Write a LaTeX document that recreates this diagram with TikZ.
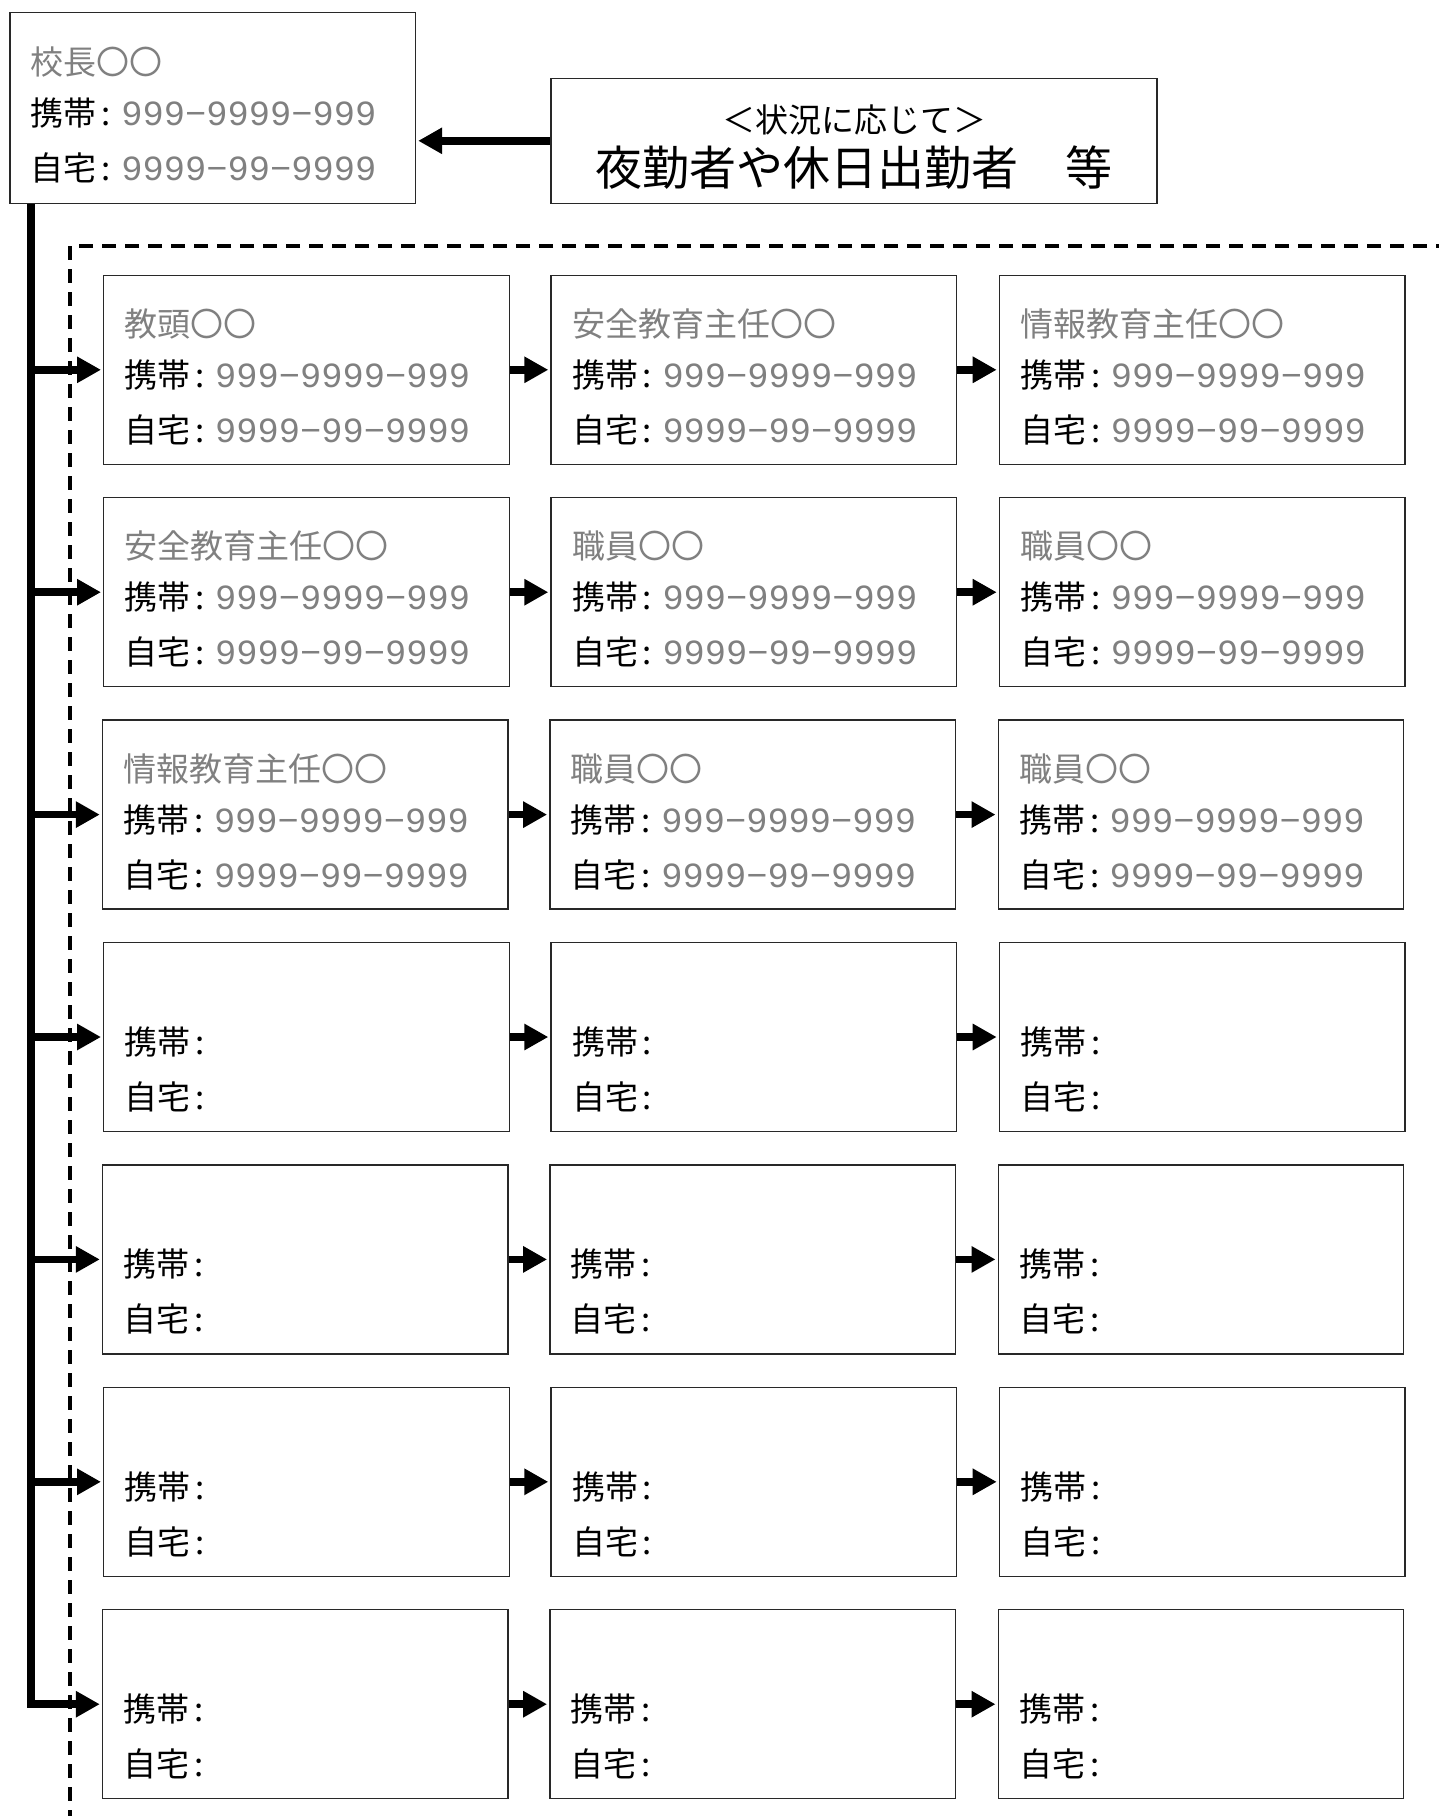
\documentclass[tikz,border=0pt]{standalone}
\usepackage{fontspec}
\setmainfont{Noto Sans CJK JP}
\newfontfamily\numfont{Liberation Mono}
\usepackage{xcolor}
\usetikzlibrary{
    arrows.meta
}
\definecolor{placeholder}{RGB}{128,128,128}
\definecolor{edge}{RGB}{40,40,40}

\newcommand{\tel}[1]{{\color{placeholder}\fontsize{17.7pt}{25.5pt}\numfont #1}}
\newcommand{\who}[1]{{\color{placeholder}#1}}
\newcommand{\keitai}{携帯\makebox[12.25pt][l]{\hspace{2.5pt}:}}
\newcommand{\jitaku}{自宅\makebox[12.25pt][l]{\hspace{2.5pt}:}}

\begin{document}
\begin{tikzpicture}[
    x=0.5pt, y=-0.5pt,
    box/.style={draw=edge, line width=0.7pt, anchor=north west, minimum width=202.75pt, minimum height=94.5pt,
        text width=181.75pt, inner xsep=10.5pt, inner ysep=0pt, text height=30.5pt, text depth=64pt,
        align=left, font=\fontsize{16.5pt}{25.5pt}\selectfont},
    link/.style={-{Triangle[length=12pt, width=12.5pt]}, line width=3.8pt, shorten >=1pt},
    frame/.style={dashed, line width=1.6pt, dash pattern=on 7pt off 4.5pt}
]
    \useasboundingbox (0,0) rectangle (1439,1816);

    % Principal
    \node[box, minimum height=95.6pt, text height=31pt, text depth=64.6pt] (kocho) at (9.3,11.6) {
        \who{校長〇〇}\\
        \keitai\tel{999−9999−999}\\[2pt]
        \jitaku\tel{9999−99−9999}
    };

    % Depending on the situation
    \node[draw=edge, line width=0.7pt, anchor=north west, minimum width=303pt, minimum height=62.5pt,
        text width=303pt, inner sep=0pt, text height=27pt, text depth=35.5pt, align=center,
        font=\fontsize{16.5pt}{26.4pt}\selectfont] (jokyo) at (550.3,77.6) {
        ＜状況に応じて＞\\
        {\fontsize{23.5pt}{26.4pt}\selectfont 夜勤者や休日出勤者　等}
    };
    \draw[link] (jokyo) -- (jokyo -| kocho.east);

    % Dashed frame
    \draw[frame] (1450,246) -| (70,1830);

    % Row 1
    \node[box] (r1a) at (103,274.6) {\who{教頭〇〇}\\ \keitai\tel{999−9999−999}\\[2pt] \jitaku\tel{9999−99−9999}};
    \node[box] (r1b) at (550.3,274.6) {\who{安全教育主任〇〇}\\ \keitai\tel{999−9999−999}\\[2pt] \jitaku\tel{9999−99−9999}};
    \node[box] (r1c) at (998.7,274.6) {\who{情報教育主任〇〇}\\ \keitai\tel{999−9999−999}\\[2pt] \jitaku\tel{9999−99−9999}};

    % Row 2
    \node[box] (r2a) at (103,497) {\who{安全教育主任〇〇}\\ \keitai\tel{999−9999−999}\\[2pt] \jitaku\tel{9999−99−9999}};
    \node[box] (r2b) at (550.3,497) {\who{職員〇〇}\\ \keitai\tel{999−9999−999}\\[2pt] \jitaku\tel{9999−99−9999}};
    \node[box] (r2c) at (998.7,497) {\who{職員〇〇}\\ \keitai\tel{999−9999−999}\\[2pt] \jitaku\tel{9999−99−9999}};

    % Row 3
    \node[box] (r3a) at (101.8,719.4) {\who{情報教育主任〇〇}\\ \keitai\tel{999−9999−999}\\[2pt] \jitaku\tel{9999−99−9999}};
    \node[box] (r3b) at (549.1,719.4) {\who{職員〇〇}\\ \keitai\tel{999−9999−999}\\[2pt] \jitaku\tel{9999−99−9999}};
    \node[box] (r3c) at (997.5,719.4) {\who{職員〇〇}\\ \keitai\tel{999−9999−999}\\[2pt] \jitaku\tel{9999−99−9999}};

    % Rows 4-7 (blank)
    \node[box] (r4a) at (103,941.8) {\mbox{}\\ \keitai\\[2pt] \jitaku};
    \node[box] (r4b) at (550.3,941.8) {\mbox{}\\ \keitai\\[2pt] \jitaku};
    \node[box] (r4c) at (998.7,941.8) {\mbox{}\\ \keitai\\[2pt] \jitaku};

    \node[box] (r5a) at (101.8,1164.2) {\mbox{}\\ \keitai\\[2pt] \jitaku};
    \node[box] (r5b) at (549.1,1164.2) {\mbox{}\\ \keitai\\[2pt] \jitaku};
    \node[box] (r5c) at (997.5,1164.2) {\mbox{}\\ \keitai\\[2pt] \jitaku};

    \node[box] (r6a) at (103,1386.6) {\mbox{}\\ \keitai\\[2pt] \jitaku};
    \node[box] (r6b) at (550.3,1386.6) {\mbox{}\\ \keitai\\[2pt] \jitaku};
    \node[box] (r6c) at (998.7,1386.6) {\mbox{}\\ \keitai\\[2pt] \jitaku};

    \node[box] (r7a) at (101.8,1609) {\mbox{}\\ \keitai\\[2pt] \jitaku};
    \node[box] (r7b) at (549.1,1609) {\mbox{}\\ \keitai\\[2pt] \jitaku};
    \node[box] (r7c) at (997.5,1609) {\mbox{}\\ \keitai\\[2pt] \jitaku};

    % Trunk from the principal
    \coordinate (trunk) at ([xshift=10.85pt]kocho.south west);
    \draw[link, line join=miter] (trunk) |- (r7a.west);
    \draw[link] (trunk |- r1a.west) -- (r1a.west);
    \draw[link] (trunk |- r2a.west) -- (r2a.west);
    \draw[link] (trunk |- r3a.west) -- (r3a.west);
    \draw[link] (trunk |- r4a.west) -- (r4a.west);
    \draw[link] (trunk |- r5a.west) -- (r5a.west);
    \draw[link] (trunk |- r6a.west) -- (r6a.west);

    % Arrows along each row
    \draw[link] (r1a) -- (r1b);
    \draw[link] (r1b) -- (r1c);
    \draw[link] (r2a) -- (r2b);
    \draw[link] (r2b) -- (r2c);
    \draw[link] (r3a) -- (r3b);
    \draw[link] (r3b) -- (r3c);
    \draw[link] (r4a) -- (r4b);
    \draw[link] (r4b) -- (r4c);
    \draw[link] (r5a) -- (r5b);
    \draw[link] (r5b) -- (r5c);
    \draw[link] (r6a) -- (r6b);
    \draw[link] (r6b) -- (r6c);
    \draw[link] (r7a) -- (r7b);
    \draw[link] (r7b) -- (r7c);
\end{tikzpicture}
\end{document}
